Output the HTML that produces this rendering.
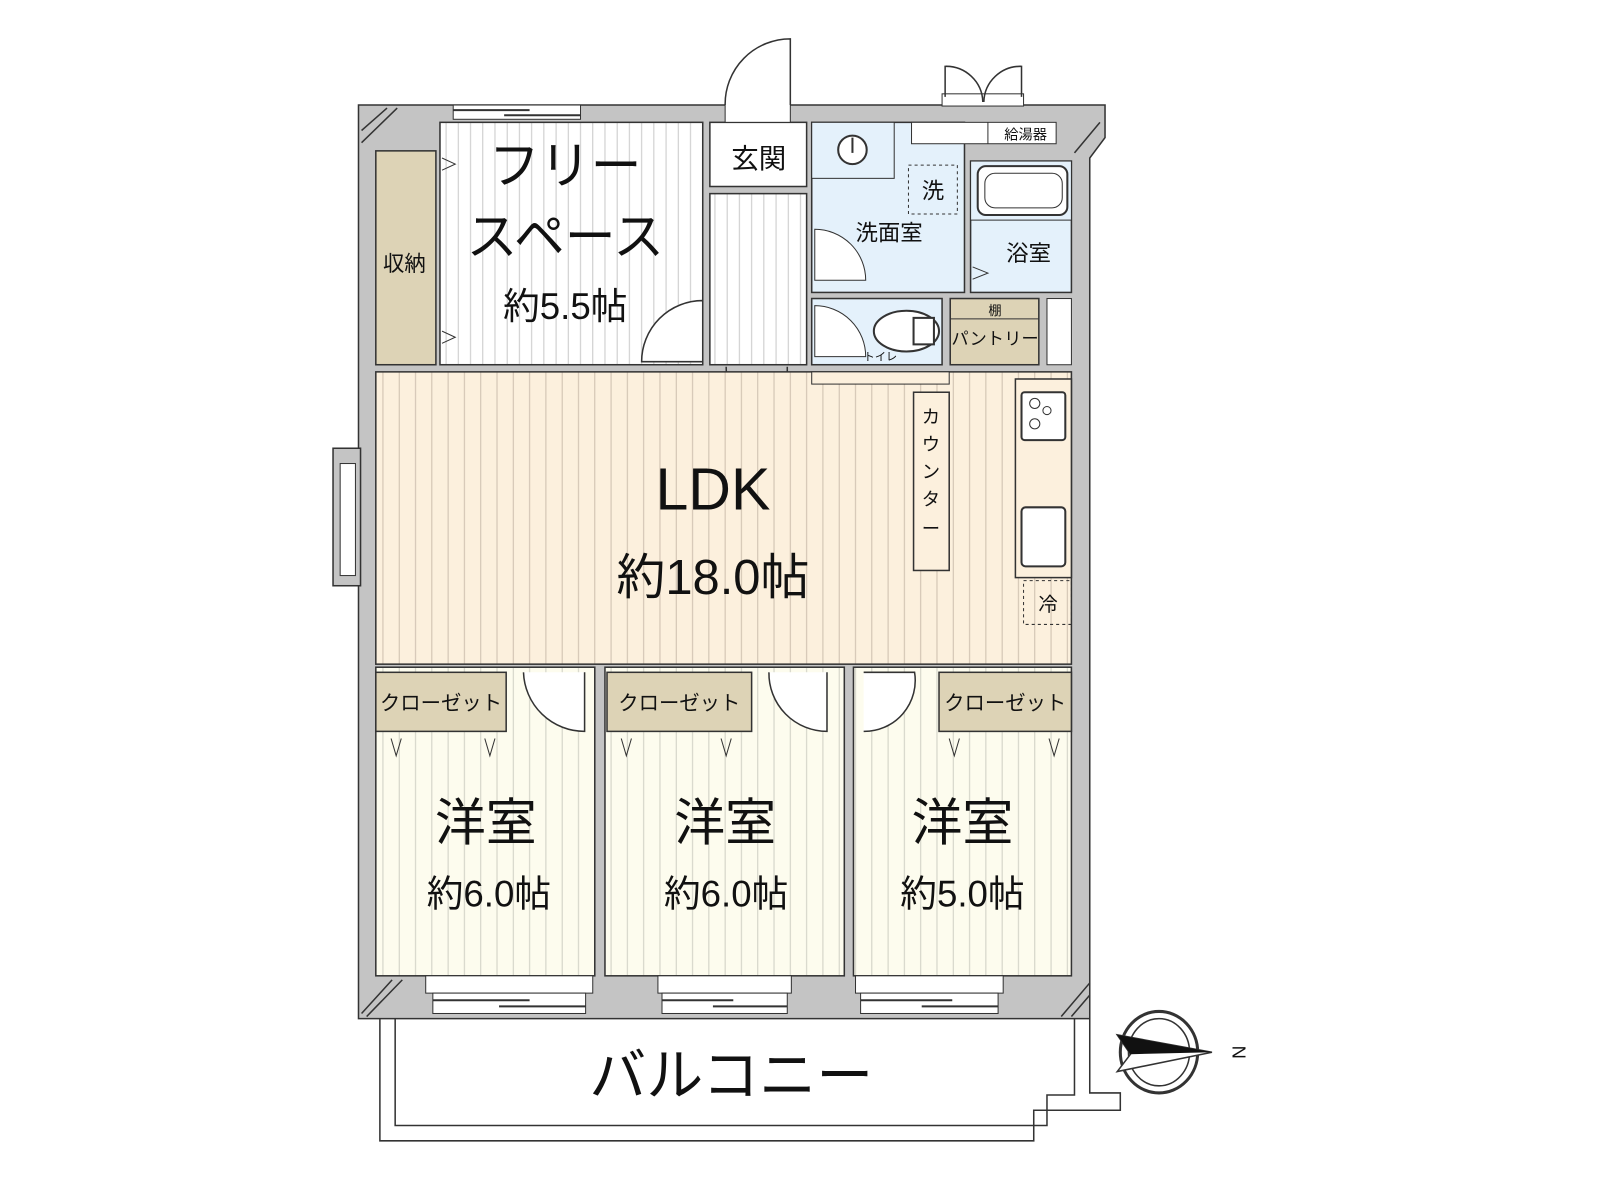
<!DOCTYPE html>
<html><head><meta charset="utf-8"><style>
html,body{margin:0;padding:0;background:#fff;}
svg{display:block;}
text{font-family:"Liberation Sans","Noto Sans CJK JP",sans-serif;fill:#111;}
</style></head><body>
<svg width="1600" height="1200" viewBox="0 0 1571 1178" xmlns="http://www.w3.org/2000/svg">
<defs>
<pattern id="sw" width="12" height="10" patternUnits="userSpaceOnUse"><rect width="12" height="10" fill="#fff"/><line x1="6" y1="0" x2="6" y2="10" stroke="#c9c9c9" stroke-width="1"/></pattern>
<pattern id="sl" width="16" height="10" patternUnits="userSpaceOnUse"><rect width="16" height="10" fill="#fcf0dd"/><line x1="8" y1="0" x2="8" y2="10" stroke="#cdbfae" stroke-width="1"/></pattern>
<pattern id="sc" width="16" height="10" patternUnits="userSpaceOnUse"><rect width="16" height="10" fill="#fdfcee"/><line x1="8" y1="0" x2="8" y2="10" stroke="#cfcfc4" stroke-width="1"/></pattern>
</defs>
<path d="M352 103 H1085 V135 L1070 155 V1000 H352 Z" fill="#c4c4c4" stroke="#333" stroke-width="1.5"/>
<g stroke="#333" stroke-width="1.5"><line x1="355" y1="140" x2="390" y2="106"/><line x1="355" y1="128" x2="380" y2="106"/>
<line x1="355" y1="995" x2="385" y2="962"/><line x1="360" y1="998" x2="395" y2="962"/>
<line x1="1042" y1="998" x2="1070" y2="965"/><line x1="1052" y1="998" x2="1070" y2="977"/>
<line x1="1055" y1="150" x2="1080" y2="120"/></g>
<rect x="327" y="440" width="27" height="135" fill="#c4c4c4" stroke="#333" stroke-width="1.5"/>
<rect x="334" y="455" width="15" height="110" fill="#fff" stroke="#333"/>
<rect x="369" y="148" width="59" height="210" fill="#ddd3b6" stroke="#333" stroke-width="1.5"/>
<text x="397" y="266" font-size="21" text-anchor="middle">収納</text>
<rect x="432" y="120" width="258" height="238" fill="url(#sw)" stroke="#333" stroke-width="1.5"/>
<g fill="none" stroke="#333"><path d="M434 155 L447 161 L434 167"/><path d="M434 325 L447 331 L434 337"/></g>
<rect x="445" y="103" width="125" height="14" fill="#fff" stroke="#333"/>
<line x1="445" y1="108" x2="520" y2="108" stroke="#333" stroke-width="2"/><line x1="495" y1="113" x2="570" y2="113" stroke="#333" stroke-width="2"/>
<text x="555" y="180" font-size="50" text-anchor="middle">フリー</text>
<text x="555" y="250" font-size="50" text-anchor="middle">スペース</text>
<text x="555" y="313" font-size="36" text-anchor="middle">約5.5帖</text>
<path d="M690 295 A60 60 0 0 0 630 355 H690 Z" fill="#fff" stroke="#333" stroke-width="1.5"/>
<rect x="697" y="120" width="95" height="63" fill="#fff" stroke="#333" stroke-width="1.5"/>
<text x="745" y="165" font-size="27" text-anchor="middle">玄関</text>
<rect x="697" y="190" width="95" height="168" fill="url(#sw)" stroke="#333" stroke-width="1.5"/>
<rect x="712" y="100" width="64" height="20" fill="#fff" stroke="#333"/>
<path d="M776 103 V38 A64 64 0 0 0 712 103" fill="#fff" stroke="#333" stroke-width="1.5"/>
<path d="M713 360 A60 60 0 0 0 773 420 V360" fill="none" stroke="#333" stroke-width="1.5"/>
<rect x="797" y="120" width="150" height="167" fill="#e4f1fb" stroke="#333" stroke-width="1.5"/>
<rect x="797" y="120" width="81" height="55" fill="#e4f1fb" stroke="#333"/>
<circle cx="837" cy="147" r="14" fill="#fff" stroke="#333" stroke-width="2"/><line x1="837" y1="135" x2="837" y2="150" stroke="#333" stroke-width="2"/>
<rect x="892" y="162" width="48" height="48" fill="none" stroke="#333" stroke-dasharray="3,3"/>
<text x="916" y="195" font-size="22" text-anchor="middle">洗</text>
<text x="873" y="236" font-size="22" text-anchor="middle">洗面室</text>
<path d="M800 225 A50 50 0 0 1 850 275 H800 Z" fill="#fff" stroke="#333"/>
<rect x="953" y="158" width="99" height="129" fill="#e4f1fb" stroke="#333" stroke-width="1.5"/>
<rect x="953" y="158" width="99" height="58" fill="#e4f1fb" stroke="#333"/>
<rect x="960" y="163" width="88" height="48" rx="8" fill="#fff" stroke="#333" stroke-width="2"/>
<rect x="967" y="170" width="76" height="34" rx="10" fill="none" stroke="#333"/>
<text x="1010" y="256" font-size="22" text-anchor="middle">浴室</text>
<path d="M955 262 L970 268 L955 274" fill="none" stroke="#333"/>
<rect x="895" y="120" width="142" height="21" fill="#fff" stroke="#333"/>
<line x1="970" y1="120" x2="970" y2="141" stroke="#333"/>
<text x="1007" y="137" font-size="14" text-anchor="middle">給湯器</text>
<rect x="925" y="92" width="80" height="12" fill="#fff" stroke="#333"/>
<path d="M928 95 V65 A36 36 0 0 1 965 100" fill="none" stroke="#333" stroke-width="1.5"/>
<path d="M1003 95 V65 A36 36 0 0 0 966 100" fill="none" stroke="#333" stroke-width="1.5"/>
<rect x="797" y="293" width="128" height="65" fill="#e4f1fb" stroke="#333" stroke-width="1.5"/>
<path d="M800 300 A50 50 0 0 1 850 350 H800 Z" fill="#fff" stroke="#333"/>
<ellipse cx="890" cy="325" rx="32" ry="20" fill="#fff" stroke="#333" stroke-width="2"/>
<rect x="897" y="312" width="20" height="26" fill="#fff" stroke="#333" stroke-width="2"/>
<text x="848" y="354" font-size="11">トイレ</text>
<rect x="933" y="293" width="87" height="65" fill="#ddd3b6" stroke="#333" stroke-width="1.5"/>
<line x1="933" y1="313" x2="1020" y2="313" stroke="#333"/>
<text x="977" y="309" font-size="13" text-anchor="middle">棚</text>
<text x="977" y="338" font-size="17" text-anchor="middle">パントリー</text>
<rect x="1028" y="293" width="24" height="65" fill="#fff" stroke="#333"/>
<rect x="369" y="365" width="683" height="287" fill="url(#sl)" stroke="#333" stroke-width="1.5"/>
<rect x="797" y="365" width="135" height="12" fill="#fcf0dd" stroke="#333"/>
<text x="700" y="500" font-size="58" text-anchor="middle">LDK</text>
<text x="700" y="583" font-size="48" text-anchor="middle">約18.0帖</text>
<rect x="897" y="385" width="35" height="175" fill="#fcf0dd" stroke="#333" stroke-width="1.5"/>
<text x="914" y="415" font-size="18" text-anchor="middle">カ</text>
<text x="914" y="442" font-size="18" text-anchor="middle">ウ</text>
<text x="914" y="469" font-size="18" text-anchor="middle">ン</text>
<text x="914" y="496" font-size="18" text-anchor="middle">タ</text>
<text x="914" y="525" font-size="18" text-anchor="middle">ー</text>
<rect x="997" y="372" width="55" height="195" fill="#fcf0dd" stroke="#333" stroke-width="1.5"/>
<rect x="1003" y="385" width="43" height="47" rx="3" fill="#fff" stroke="#333" stroke-width="2"/>
<circle cx="1016" cy="396" r="5" fill="none" stroke="#333"/><circle cx="1028" cy="403" r="4" fill="none" stroke="#333"/><circle cx="1016" cy="416" r="5" fill="none" stroke="#333"/>
<rect x="1003" y="498" width="43" height="58" rx="4" fill="#fff" stroke="#333" stroke-width="2"/>
<rect x="1005" y="570" width="47" height="43" fill="none" stroke="#333" stroke-dasharray="3,3"/>
<text x="1029" y="600" font-size="19" text-anchor="middle">冷</text>
<rect x="369" y="655" width="215" height="303" fill="url(#sc)" stroke="#333" stroke-width="1.5"/>
<rect x="594" y="655" width="235" height="303" fill="url(#sc)" stroke="#333" stroke-width="1.5"/>
<rect x="838" y="655" width="214" height="303" fill="url(#sc)" stroke="#333" stroke-width="1.5"/>
<rect x="369" y="660" width="128" height="58" fill="#ddd3b6" stroke="#333" stroke-width="1.5"/>
<rect x="596" y="660" width="142" height="58" fill="#ddd3b6" stroke="#333" stroke-width="1.5"/>
<rect x="922" y="660" width="130" height="58" fill="#ddd3b6" stroke="#333" stroke-width="1.5"/>
<text x="433" y="697" font-size="20" text-anchor="middle">クローゼット</text>
<text x="667" y="697" font-size="20" text-anchor="middle">クローゼット</text>
<text x="987" y="697" font-size="20" text-anchor="middle">クローゼット</text>
<g fill="none" stroke="#333">
<path d="M384 725 L389 742 L394 725"/><path d="M476 725 L481 742 L486 725"/>
<path d="M610 725 L615 742 L620 725"/><path d="M708 725 L713 742 L718 725"/>
<path d="M932 725 L937 742 L942 725"/><path d="M1030 725 L1035 742 L1040 725"/>
</g>
<path d="M514 660 A60 60 0 0 0 574 718 V660" fill="#fff" stroke="#333" stroke-width="1.5"/>
<path d="M755 660 A57 57 0 0 0 812 718 V660" fill="#fff" stroke="#333" stroke-width="1.5"/>
<path d="M848 718 A50 50 0 0 0 898 660 H848" fill="#fff" stroke="#333" stroke-width="1.5"/>
<text x="477" y="825" font-size="50" text-anchor="middle">洋室</text>
<text x="712" y="825" font-size="50" text-anchor="middle">洋室</text>
<text x="945" y="825" font-size="50" text-anchor="middle">洋室</text>
<text x="480" y="890" font-size="36" text-anchor="middle">約6.0帖</text>
<text x="713" y="890" font-size="36" text-anchor="middle">約6.0帖</text>
<text x="945" y="890" font-size="36" text-anchor="middle">約5.0帖</text>
<g fill="#fff" stroke="#333">
<rect x="418" y="958" width="164" height="17"/><rect x="425" y="975" width="150" height="20"/>
<rect x="646" y="958" width="131" height="17"/><rect x="650" y="975" width="123" height="20"/>
<rect x="840" y="958" width="145" height="17"/><rect x="845" y="975" width="135" height="20"/>
</g>
<g stroke="#333" stroke-width="2"><line x1="425" y1="982" x2="520" y2="982"/><line x1="490" y1="988" x2="575" y2="988"/>
<line x1="650" y1="982" x2="720" y2="982"/><line x1="700" y1="988" x2="773" y2="988"/>
<line x1="845" y1="982" x2="935" y2="982"/><line x1="905" y1="988" x2="980" y2="988"/></g>
<path d="M373 1000 V1120 H1015 V1090 H1100 V1073 H1070 V1000" fill="none" stroke="#333" stroke-width="1.5"/>
<path d="M388 1000 V1105 H1028 V1075 H1055 V1000" fill="none" stroke="#333" stroke-width="1.5"/>
<text x="718" y="1075" font-size="56" text-anchor="middle">バルコニー</text>
<ellipse cx="1138" cy="1033" rx="38" ry="40" fill="none" stroke="#333" stroke-width="3"/>
<ellipse cx="1138" cy="1033" rx="30" ry="33" fill="none" stroke="#333" stroke-width="1.5"/>
<path d="M1097 1016 L1110 1035 L1097 1052 L1190 1033 Z" fill="#fff" stroke="#333" stroke-width="1.5"/>
<path d="M1097 1016 L1110 1035 L1190 1033 Z" fill="#111"/>
<text x="1210" y="1033" font-size="18" text-anchor="middle" transform="rotate(90 1210 1033)">N</text>
</svg>
</body></html>
